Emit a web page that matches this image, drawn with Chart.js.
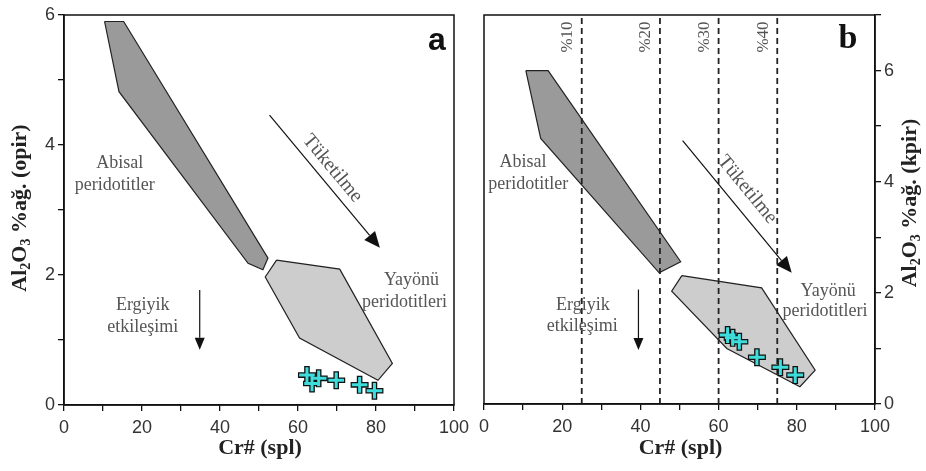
<!DOCTYPE html>
<html>
<head>
<meta charset="utf-8">
<script src="https://cdn.jsdelivr.net/npm/chart.js@4.4.1/dist/chart.umd.min.js"></script>
<style>
  body { margin: 0; background: #fff; }
  #wrap { position: relative; width: 926px; height: 471px; }
  #wrap canvas { position: absolute; left: 0; top: 0; }
</style>
</head>
<body>
<div id="wrap">
  <canvas id="chart-a" width="926" height="471"></canvas>
  <canvas id="chart-b" width="926" height="471"></canvas>
</div>
<script>
// Sample points (Cr# of spinel) and Al2O3 of opx / cpx
const sampleCr = [62.3, 63.6, 65.3, 69.8, 75.8, 79.6];
const opxAl2O3 = [0.46, 0.33, 0.41, 0.38, 0.31, 0.22];
const cpxAl2O3 = [1.24, 1.19, 1.12, 0.84, 0.66, 0.52];

// Field outlines, panel a (opx)
const abyssalOpxX = [10.4, 15.3, 52.3, 51.0, 47.2, 14.1, 10.4];
const abyssalOpxY = [5.9, 5.9, 2.26, 2.08, 2.18, 4.82, 5.9];
const forearcOpxX = [54.5, 70.7, 84.2, 80.5, 60.4, 51.6, 54.5];
const forearcOpxY = [2.23, 2.09, 0.64, 0.38, 1.03, 1.97, 2.23];

// Field outlines, panel b (cpx)
const abyssalCpxX = [10.7, 16.4, 50.3, 44.8, 14.5, 10.7];
const abyssalCpxY = [6.0, 6.0, 2.56, 2.36, 4.78, 6.0];
const forearcCpxX = [50.6, 71.0, 84.7, 80.8, 62.1, 48.0, 50.6];
const forearcCpxY = [2.31, 2.09, 0.61, 0.31, 1.0, 2.03, 2.31];

// Melting degree lines (panel b)
const meltCr = [25, 45, 60, 75];
const meltLabels = ['%10', '%20', '%30', '%40'];

// Trend arrows [x1, y1, x2, y2]
const depletionA = [52.7, 4.46, 81.0, 2.42];
const depletionB = [50.8, 4.74, 78.7, 2.36];
const meltRockA = [34.8, 1.77, 34.8, 0.85];
const meltRockB = [39.5, 2.06, 39.5, 0.97];

const toXY = (xs, ys) => xs.map((x, i) => ({ x: x, y: ys[i] }));

const serif = "'Liberation Serif', 'Times New Roman', serif";
const sans = "'Liberation Sans', Arial, sans-serif";

function fieldSet(xs, ys, color) {
    return {
        data: toXY(xs, ys),
        showLine: true,
        fill: 'shape',
        backgroundColor: color,
        borderColor: '#222',
        borderWidth: 1.2,
        pointRadius: 0,
        tension: 0,
        order: 5
    };
}

function crossSets(xs, ys) {
    return [{
        data: toXY(xs, ys),
        pointStyle: 'cross',
        pointRadius: 7.8,
        borderColor: '#3fdcdc',
        borderWidth: 3,
        order: 0
    }, {
        data: toXY(xs, ys),
        pointStyle: 'cross',
        pointRadius: 9,
        borderColor: '#111',
        borderWidth: 5.6,
        order: 1
    }];
}

function drawArrow(ctx, x1, y1, x2, y2, len, half) {
    const ang = Math.atan2(y2 - y1, x2 - x1);
    const bx = x2 - len * Math.cos(ang), by = y2 - len * Math.sin(ang);
    ctx.beginPath();
    ctx.moveTo(x1, y1);
    ctx.lineTo(bx, by);
    ctx.strokeStyle = '#111';
    ctx.lineWidth = 1.2;
    ctx.stroke();
    ctx.beginPath();
    ctx.moveTo(x2, y2);
    ctx.lineTo(bx + half * Math.sin(ang), by - half * Math.cos(ang));
    ctx.lineTo(bx - half * Math.sin(ang), by + half * Math.cos(ang));
    ctx.closePath();
    ctx.fillStyle = '#111';
    ctx.fill();
}

// draws text made of [string, isSubscript] parts, centred at (0,0)
function drawParts(ctx, parts, size) {
    const big = 'bold ' + size + 'px ' + serif;
    const small = 'bold ' + Math.round(size * 0.62) + 'px ' + serif;
    let total = 0;
    parts.forEach(p => { ctx.font = p[1] ? small : big; total += ctx.measureText(p[0]).width; });
    let x = -total / 2;
    ctx.textBaseline = 'middle';
    ctx.textAlign = 'left';
    ctx.fillStyle = '#222';
    parts.forEach(p => {
        ctx.font = p[1] ? small : big;
        ctx.fillText(p[0], x, p[1] ? size * 0.3 : 0);
        x += ctx.measureText(p[0]).width;
    });
}

function panelPlugin(opts) {
    return {
        id: 'panel' + opts.letter,
        afterDatasetsDraw(chart) {
            const ctx = chart.ctx;
            const xs = chart.scales.x, ys = chart.scales.y;
            const px = v => xs.getPixelForValue(v), py = v => ys.getPixelForValue(v);
            const area = chart.chartArea;
            ctx.save();

            // frame
            ctx.strokeStyle = '#111';
            ctx.lineWidth = 1.5;
            ctx.strokeRect(area.left, area.top, area.right - area.left, area.bottom - area.top);

            // arrows
            const d = opts.depletion, m = opts.meltRock;
            drawArrow(ctx, px(d[0]), py(d[1]), px(d[2]), py(d[3]), 16, 7);
            drawArrow(ctx, px(m[0]), py(m[1]), px(m[2]), py(m[3]), 12, 5);

            // field labels
            ctx.fillStyle = '#555';
            ctx.font = '18px ' + serif;
            ctx.textAlign = 'center';
            ctx.textBaseline = 'middle';
            opts.labels.forEach(l => ctx.fillText(l[0], px(l[1]), py(l[2])));

            // rotated depletion label
            const ang = Math.atan2(py(d[3]) - py(d[1]), px(d[2]) - px(d[0]));
            ctx.save();
            ctx.translate(px(opts.tuk[0]), py(opts.tuk[1]));
            ctx.rotate(ang);
            ctx.font = '20px ' + serif;
            ctx.fillText('Tüketilme', 0, 0);
            ctx.restore();

            // panel letter
            ctx.fillStyle = '#111';
            ctx.font = opts.letterFont;
            ctx.fillText(opts.letter, px(opts.letterPos[0]), py(opts.letterPos[1]));

            // melting degree labels
            if (opts.melt) {
                ctx.font = '17px ' + serif;
                ctx.fillStyle = '#555';
                meltCr.forEach((c, i) => {
                    ctx.save();
                    ctx.translate(px(c) - 14, area.top + 22);
                    ctx.rotate(-Math.PI / 2);
                    ctx.fillText(meltLabels[i], 0, 0);
                    ctx.restore();
                });
            }

            // x axis title
            ctx.fillStyle = '#222';
            ctx.font = 'bold 22px ' + serif;
            ctx.fillText('Cr# (spl)', (area.left + area.right) / 2 + 1, 448);

            // y axis title
            ctx.save();
            ctx.translate(opts.yTitleX, opts.yTitleY);
            ctx.rotate(-Math.PI / 2);
            drawParts(ctx, [['Al', false], ['2', true], ['O', false], ['3', true], [' %ağ. (' + opts.phase + ')', false]], 22);
            ctx.restore();

            ctx.restore();
        }
    };
}

function axisOpts(max, step, labelEvery, position, fitSize) {
    return {
        type: 'linear',
        position: position,
        min: 0,
        max: max,
        border: { display: true, color: '#111', width: 1.5 },
        grid: { display: true, drawOnChartArea: false, drawTicks: true, tickLength: 6, color: '#111', lineWidth: 1.3 },
        ticks: {
            stepSize: step,
            autoSkip: false,
            maxRotation: 0,
            padding: position === 'bottom' ? 6 : 3,
            color: '#333',
            font: { family: sans, size: 18 },
            callback: v => (v % labelEvery === 0 ? v : '')
        },
        afterFit: s => {
            if (position === 'bottom') s.height = fitSize; else s.width = fitSize;
        }
    };
}

function baseOptions(padding, yPos, yMax, xFit, yFit) {
    return {
        responsive: false,
        animation: false,
        layout: { padding: padding },
        plugins: { legend: { display: false }, tooltip: { enabled: false } },
        scales: {
            x: axisOpts(100, 10, 20, 'bottom', xFit),
            y: axisOpts(yMax, 1, 2, yPos, yFit)
        }
    };
}

// Panel a: opx
new Chart(document.getElementById('chart-a'), {
    type: 'scatter',
    data: {
        datasets: [
            ...crossSets(sampleCr, opxAl2O3),
            fieldSet(abyssalOpxX, abyssalOpxY, '#9a9a9a'),
            fieldSet(forearcOpxX, forearcOpxY, '#cdcdcd')
        ]
    },
    options: baseOptions({ top: 15, right: 472, left: 0, bottom: 0 }, 'left', 6, 66, 64),
    plugins: [panelPlugin({
        letter: 'a',
        letterFont: 'bold 32px ' + sans,
        letterPos: [95.6, 5.6],
        phase: 'opir',
        depletion: depletionA,
        meltRock: meltRockA,
        tuk: [68.8, 3.64],
        labels: [
            ['Abisal', 14.3, 3.72], ['peridotitler', 13.0, 3.38],
            ['Ergiyik', 20.2, 1.54], ['etkileşimi', 20.2, 1.2],
            ['Yayönü', 89.1, 1.92], ['peridotitleri', 87.3, 1.58]
        ],
        yTitleX: 20,
        yTitleY: 208
    })]
});

// Panel b: cpx
new Chart(document.getElementById('chart-b'), {
    type: 'scatter',
    data: {
        datasets: [
            ...crossSets(sampleCr, cpxAl2O3),
            ...meltCr.map(c => ({
                data: [{ x: c, y: 0 }, { x: c, y: 7 }],
                showLine: true,
                borderColor: '#222',
                borderWidth: 1.8,
                borderDash: [6, 4],
                pointRadius: 0,
                order: 3
            })),
            fieldSet(abyssalCpxX, abyssalCpxY, '#9a9a9a'),
            fieldSet(forearcCpxX, forearcCpxY, '#cdcdcd')
        ]
    },
    options: baseOptions({ top: 15, right: 0, left: 484, bottom: 0 }, 'right', 7, 67, 51),
    plugins: [panelPlugin({
        letter: 'b',
        letterFont: 'bold 34px ' + serif,
        letterPos: [93.1, 6.57],
        phase: 'kpir',
        melt: true,
        depletion: depletionB,
        meltRock: meltRockB,
        tuk: [67.3, 3.86],
        labels: [
            ['Abisal', 10.0, 4.35], ['peridotitler', 11.3, 3.96],
            ['Ergiyik', 25.3, 1.78], ['etkileşimi', 25.1, 1.39],
            ['Yayönü', 88.0, 2.02], ['peridotitleri', 87.2, 1.66]
        ],
        yTitleX: 910,
        yTitleY: 203
    })]
});
</script>
</body>
</html>
